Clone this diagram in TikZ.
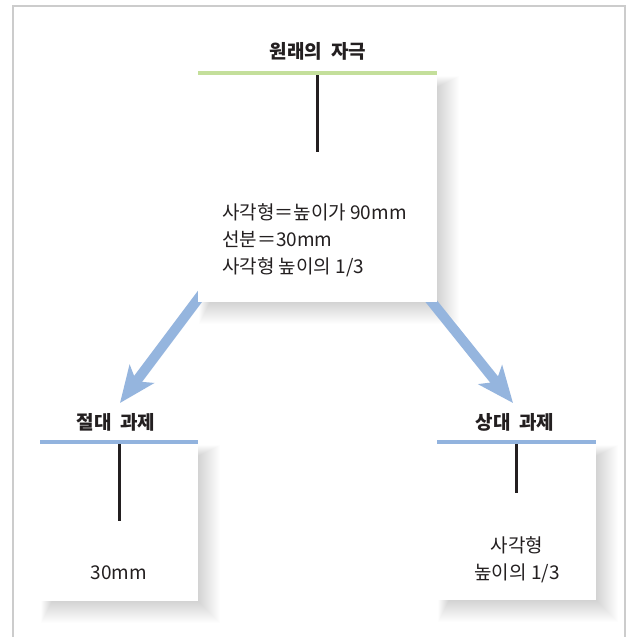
\documentclass[tikz,border=0pt]{standalone}
\usepackage{fontspec}
\setmainfont{Noto Sans CJK KR}
\usetikzlibrary{arrows.meta}
\definecolor{framegray}{HTML}{CCCCCC}
\definecolor{topgreen}{HTML}{C4DF9B}
\definecolor{barblue}{HTML}{92B3DE}
\definecolor{arrowblue}{HTML}{95B5DE}
\definecolor{inkblack}{HTML}{231F20}
\definecolor{textgray}{HTML}{231F20}
\newcommand\mycardshadow[4]{%
  \foreach \i in {1,...,22}{%
    \fill[black, opacity=0.008] (#1+12-\i/2,#2+12-\i/2) rectangle (#3+\i,#4+\i);
  }%
}
\tikzset{
  card/.style={fill=white, draw=none, inner sep=0pt, anchor=north west},
  greenbar/.style={topgreen, line width=4.5pt},
  bluebar/.style={barblue, line width=4.5pt},
  stimline/.style={inkblack, line width=3pt},
  bigarrow/.style={arrowblue, line width=10pt,
    -{Stealth[length=36pt, width=30pt, inset=9pt]}},
  cardtitle/.style={font=\fontsize{19}{22}\selectfont\bfseries, text=textgray, inner sep=0pt},
  cardtext/.style={font=\fontsize{19}{27}\selectfont, text=textgray, inner sep=0pt}
}
\begin{document}
\begin{tikzpicture}[x=1pt,y=-1pt]
\useasboundingbox (0,0) rectangle (628,637);
\fill[white] (0,0) rectangle (628,637);
\draw[framegray, line width=2pt] (13,637) -- (13,6) -- (625,6) -- (625,637);

% shadows of the cards
\mycardshadow{198}{75}{437}{302}
\mycardshadow{40}{444}{198}{601}
\mycardshadow{437}{444}{596}{600}

% arrows (under the cards)
\coordinate (la) at (210,283);
\coordinate (lt) at (120,403);
\coordinate (ra) at (419,286);
\coordinate (rt) at (513,403);
\draw[bigarrow] (la) -- (lt);
\draw[bigarrow] (ra) -- (rt);

% original stimulus
\node[card, minimum width=239pt, minimum height=227pt] (orig) at (198,75) {};
\draw[greenbar] ([yshift=2.25pt]orig.north west) -- ([yshift=2.25pt]orig.north east);
\draw[stimline] (orig.north) -- ++(0,77) coordinate (origend);
\node[cardtitle] (origtitle) at (318,51) {원래의\ \ 자극};
\node[cardtext, align=left, anchor=west] (origtext) at (222,240)
  {사각형＝높이가 90mm\\선분＝30mm\\사각형 높이의 1/3};

% absolute task
\node[card, minimum width=158pt, minimum height=157pt] (abs) at (40,444) {};
\draw[bluebar] ([yshift=2.25pt]abs.north west) -- ([yshift=2.25pt]abs.north east);
\draw[stimline] (abs.north) -- ++(0,77) coordinate (absend);
\node[cardtitle] (abstitle) at (116,422) {절대\ \ 과제};
\node[cardtext] (abstext) at (119,573) {30mm};

% relative task
\node[card, minimum width=159pt, minimum height=156pt] (rel) at (437,444) {};
\draw[bluebar] ([yshift=2.25pt]rel.north west) -- ([yshift=2.25pt]rel.north east);
\draw[stimline] (rel.north) -- ++(0,49) coordinate (relend);
\node[cardtitle] (reltitle) at (515,422) {상대\ \ 과제};
\node[cardtext, align=center] (reltext) at (517,560) {사각형\\높이의 1/3};
\end{tikzpicture}
\end{document}
